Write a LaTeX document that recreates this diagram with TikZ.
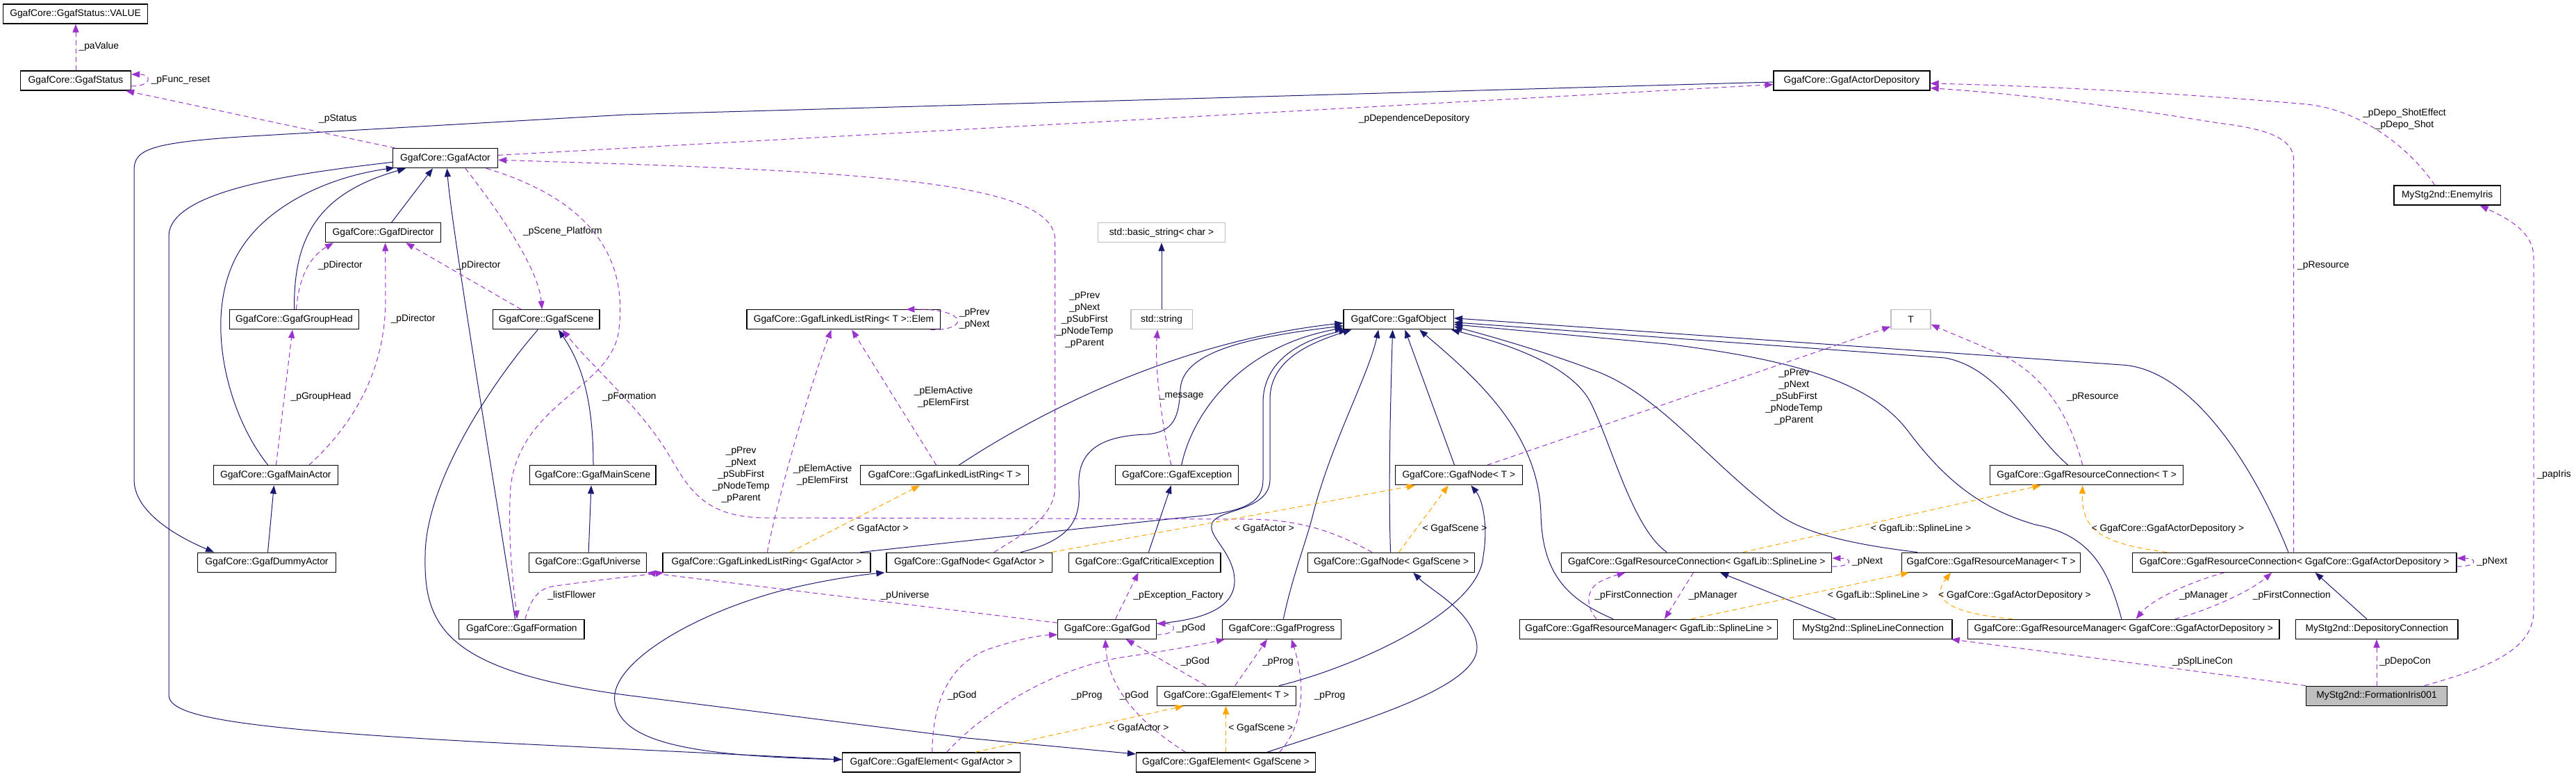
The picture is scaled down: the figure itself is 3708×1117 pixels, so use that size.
\documentclass[tikz,border=0pt]{standalone}
\usepackage{fontspec}
\setmainfont{Liberation Sans}
\usetikzlibrary{arrows.meta}
\definecolor{edgeblue}{HTML}{191970}
\definecolor{edgepurple}{HTML}{9A32CD}
\definecolor{edgeorange}{HTML}{FFA500}
\definecolor{boxgray}{HTML}{BFBFBF}
\begin{document}
\begin{tikzpicture}[x=1pt,y=-1pt,
  font=\fontsize{13.8}{17}\selectfont,
  classbox/.style={draw=black,line width=1.3pt,fill=white,minimum height=28pt,inner xsep=3pt,inner ysep=0pt},
  graybox/.style={classbox,draw=boxgray},
  hlbox/.style={classbox,fill=boxgray},
  arrowtip/.style={-{Triangle[length=12pt,width=9pt]}},
  inhedge/.style={draw=edgeblue,line width=1pt,arrowtip},
  useedge/.style={draw=edgepurple,line width=1pt,dash pattern=on 7pt off 5pt,arrowtip},
  tmpledge/.style={draw=edgeorange,line width=1pt,dash pattern=on 7pt off 5pt,arrowtip},
  lblnode/.style={inner sep=0pt,align=center,text=black}]
\useasboundingbox (0,0) rectangle (3708,1117);

% ---------- nodes ----------
\node[classbox,minimum width=207.6pt] (value) at (108.5,20) {GgafCore::GgafStatus::VALUE};
\node[classbox,minimum width=159pt] (status) at (109,116) {GgafCore::GgafStatus};
\node[classbox,minimum width=225pt] (actordepo) at (2665.5,116) {GgafCore::GgafActorDepository};
\node[classbox,minimum width=151pt] (actor) at (641,227.7) {GgafCore::GgafActor};
\node[classbox,minimum width=153.6pt] (enemyiris) at (3522.7,281) {MyStg2nd::EnemyIris};
\node[classbox,minimum width=166pt] (director) at (551.6,334.7) {GgafCore::GgafDirector};
\node[graybox,minimum width=183.3pt] (basicstr) at (1672,334.7) {std::basic\_string< char >};
\node[classbox,minimum width=186pt] (grouphead) at (423.5,459.8) {GgafCore::GgafGroupHead};
\node[classbox,minimum width=153.6pt] (scene) at (786.2,459.8) {GgafCore::GgafScene};
\node[classbox,minimum width=278.8pt] (elem) at (1214.4,459.8) {GgafCore::GgafLinkedListRing< T >::Elem};
\node[graybox,minimum width=88.3pt] (stdstr) at (1672,459.8) {std::string};
\node[classbox,minimum width=158.4pt] (object) at (2013.2,459.8) {GgafCore::GgafObject};
\node[graybox,minimum width=57pt] (tparam) at (2750.5,459.8) {T};
\node[classbox,minimum width=179pt] (mainactor) at (396.8,683.8) {GgafCore::GgafMainActor};
\node[classbox,minimum width=181.7pt] (mainscene) at (853,683.8) {GgafCore::GgafMainScene};
\node[classbox,minimum width=242pt] (llrT) at (1359.7,683.8) {GgafCore::GgafLinkedListRing< T >};
\node[classbox,minimum width=176.8pt] (exception) at (1694.2,683.8) {GgafCore::GgafException};
\node[classbox,minimum width=183.3pt] (nodeT) at (2099.8,683.8) {GgafCore::GgafNode< T >};
\node[classbox,minimum width=278.2pt] (rcT) at (3003.7,683.8) {GgafCore::GgafResourceConnection< T >};
\node[classbox,minimum width=198.7pt] (dummy) at (384,809.2) {GgafCore::GgafDummyActor};
\node[classbox,minimum width=169.2pt] (universe) at (846.2,809.2) {GgafCore::GgafUniverse};
\node[classbox,minimum width=298.9pt] (llrA) at (1103.5,809.2) {GgafCore::GgafLinkedListRing< GgafActor >};
\node[classbox,minimum width=238.4pt] (nodeA) at (1395.2,809.2) {GgafCore::GgafNode< GgafActor >};
\node[classbox,minimum width=218.8pt] (critexc) at (1647.6,809.2) {GgafCore::GgafCriticalException};
\node[classbox,minimum width=240.2pt] (nodeS) at (2002.6,809.2) {GgafCore::GgafNode< GgafScene >};
\node[classbox,minimum width=389pt] (rcSL) at (2442.3,809.2) {GgafCore::GgafResourceConnection< GgafLib::SplineLine >};
\node[classbox,minimum width=256.5pt] (rmT) at (2866,809.2) {GgafCore::GgafResourceManager< T >};
\node[classbox,minimum width=466.8pt] (rcAD) at (3302.6,809.2) {GgafCore::GgafResourceConnection< GgafCore::GgafActorDepository >};
\node[classbox,minimum width=180.3pt] (formation) at (750.9,905.2) {GgafCore::GgafFormation};
\node[classbox,minimum width=141.8pt] (god) at (1593.7,905.2) {GgafCore::GgafGod};
\node[classbox,minimum width=171pt] (progress) at (1845,905.2) {GgafCore::GgafProgress};
\node[classbox,minimum width=371.3pt] (rmSL) at (2373,905.2) {GgafCore::GgafResourceManager< GgafLib::SplineLine >};
\node[classbox,minimum width=228.3pt] (slc) at (2695.9,905.2) {MyStg2nd::SplineLineConnection};
\node[classbox,minimum width=448.4pt] (rmAD) at (3056.8,905.2) {GgafCore::GgafResourceManager< GgafCore::GgafActorDepository >};
\node[classbox,minimum width=233.1pt] (depocon) at (3421.3,905.2) {MyStg2nd::DepositoryConnection};
\node[classbox,minimum width=200pt] (elemT) at (1765.2,1001.2) {GgafCore::GgafElement< T >};
\node[hlbox,minimum width=202.9pt] (fi001) at (3421,1001.2) {MyStg2nd::FormationIris001};
\node[classbox,minimum width=256.2pt] (elemA) at (1340.7,1097) {GgafCore::GgafElement< GgafActor >};
\node[classbox,minimum width=258.2pt] (elemS) at (1764.6,1097) {GgafCore::GgafElement< GgafScene >};

% ---------- inheritance ----------
\draw[inhedge] ([yshift=-2pt]actordepo.west) -- (900,165) -- (360,196) .. controls (215,205) and (193,215) .. (193,245) -- (193,690) .. controls (193,735) and (250,770) .. ([xshift=-76pt]dummy.north);
\draw[inhedge] ([yshift=-5.6pt]actor.west) .. controls (420,250) and (243,275) .. (243,340) -- (243,1000) .. controls (243,1030) and (330,1048) .. (700,1068) -- ([yshift=4pt]elemA.west);
\draw[inhedge] ([xshift=-11pt]mainactor.north) .. controls (330,600) and (295,470) .. (335,380) .. controls (370,300) and (470,255) .. ([xshift=3pt,yshift=1pt]actor.south west);
\draw[inhedge] (grouphead.north) .. controls (423,350) and (450,280) .. ([xshift=-57pt]actor.south);
\draw[inhedge] ([xshift=12pt]director.north) -- ([xshift=-18pt]actor.south);
\draw[inhedge] ([xshift=-9.5pt]formation.north) .. controls (725,780) and (650,330) .. ([xshift=2.5pt]actor.south);
\draw[inhedge] ([xshift=1pt]mainscene.north) .. controls (854,570) and (835,520) .. ([xshift=17.5pt]scene.south);
\draw[inhedge] ([xshift=1pt]universe.north) -- ([xshift=-2pt]mainscene.south);
\draw[inhedge] ([xshift=1.5pt]dummy.north) -- ([xshift=-2.4pt]mainactor.south);
\draw[inhedge] (stdstr.north) -- (basicstr.south);
\draw[inhedge] ([xshift=5.7pt]critexc.north) -- ([xshift=-8.3pt]exception.south);
\draw[inhedge] ([xshift=20.7pt]llrT.north) .. controls (1500,590) and (1700,490) .. ([yshift=-5pt]object.west);
\draw[inhedge] ([xshift=74pt]nodeA.north) .. controls (1550,775) and (1555,740) .. (1553,700) .. controls (1550,645) and (1590,627) .. (1650,625) .. controls (1690,622) and (1697,600) .. (1699,560) .. controls (1702,505) and (1800,485) .. ([yshift=-9pt]object.west);
\draw[inhedge] ([xshift=6.5pt]exception.north) .. controls (1715,600) and (1780,500) .. ([yshift=-12pt]object.west);
\draw[inhedge] ([xshift=135pt]llrA.north) -- (1700,745) .. controls (1790,738) and (1818,725) .. (1818,690) -- (1818,580) .. controls (1818,520) and (1870,490) .. ([xshift=6pt]object.south west);
\draw[inhedge] ([yshift=8pt]god.east) .. controls (1760,890) and (1785,860) .. (1775,820) .. controls (1765,785) and (1738,770) .. (1745,752) .. controls (1755,732) and (1828,735) .. (1828,690) -- (1828,575) .. controls (1828,520) and (1880,495) .. ([xshift=12pt]object.south west);
\draw[inhedge] ([xshift=2.4pt]progress.north) .. controls (1860,830) and (1880,780) .. (1890,740) .. controls (1915,640) and (1970,540) .. ([xshift=-29pt]object.south);
\draw[inhedge] ([xshift=-1pt]nodeS.north) .. controls (1998,700) and (2002,560) .. ([xshift=-8.6pt]object.south);
\draw[inhedge] ([xshift=-6.2pt]nodeT.north) -- ([xshift=9.2pt]object.south);
\draw[inhedge] ([xshift=-51pt]rmSL.north) .. controls (2250,860) and (2220,820) .. (2218,740) .. controls (2215,620) and (2120,540) .. ([xshift=30pt]object.south);
\draw[inhedge] ([xshift=-43pt]rcSL.north) .. controls (2350,760) and (2320,640) .. (2290,580) .. controls (2260,520) and (2150,490) .. ([xshift=-4pt]object.south east);
\draw[inhedge] ([xshift=-106pt]rmT.north) .. controls (2680,785) and (2600,770) .. (2560,740) .. controls (2460,665) and (2390,570) .. (2300,535) .. controls (2230,508) and (2150,485) .. ([yshift=-10pt]object.east);
\draw[inhedge] ([xshift=-27pt]rcT.north) .. controls (2920,620) and (2880,530) .. (2800,515) -- ([yshift=-4pt]object.east);
\draw[inhedge] ([xshift=-8.6pt]rcAD.north) .. controls (3240,660) and (3150,530) .. (3054,525) -- ([yshift=2pt]object.east);
\draw[inhedge] ([xshift=-3pt]rmAD.north) .. controls (3035,820) and (3010,770) .. (2930,755) .. controls (2850,732) and (2800,690) .. (2750,625) .. controls (2700,555) and (2600,520) .. (2400,495) -- ([yshift=-7pt]object.east);
\draw[inhedge] ([yshift=4pt]elemA.west) .. controls (1000,1088) and (895,1070) .. (885,1010) .. controls (876,955) and (1000,880) .. (1140,846) .. controls (1200,832) and (1250,826) .. ([xshift=-2pt]nodeA.south west);
\draw[inhedge] ([xshift=-12pt]scene.south) .. controls (700,560) and (612,700) .. (612,800) .. controls (610,900) and (640,965) .. (900,1000) -- (1392,1062) -- ([yshift=12pt]elemS.west);
\draw[inhedge] ([xshift=76pt]elemT.north) .. controls (1950,960) and (2130,880) .. (2135,800) .. controls (2142,760) and (2135,720) .. ([xshift=17.5pt]nodeT.south);
\draw[inhedge] ([xshift=59pt]elemS.north) .. controls (1950,1040) and (2130,990) .. (2126,930) .. controls (2122,880) and (2060,850) .. ([xshift=31.7pt]nodeS.south);
\draw[inhedge] ([xshift=-53.7pt]slc.north) -- ([xshift=33.7pt]rcSL.south);
\draw[inhedge] ([xshift=-14.6pt]depocon.north) -- ([xshift=30pt]rcAD.south);

% ---------- usage ----------
\draw[useedge] (status.north) -- (status.north |- value.south);
\draw[useedge] ([yshift=-8pt]status.east) .. controls +(30,0) and +(30,0) .. ([yshift=9pt]status.east);
\draw[useedge] ([xshift=4pt]actor.north west) -- ([xshift=-8pt]status.south east);
\draw[useedge] ([yshift=4.4pt]actor.east) -- ([yshift=-5.6pt]actordepo.west);
\draw[useedge] ([xshift=29pt]actor.south) .. controls (730,320) and (775,390) .. ([xshift=-6pt]scene.north);
\draw[useedge] ([xshift=59pt]actor.south) .. controls (860,290) and (905,380) .. (890,480) .. controls (875,560) and (750,580) .. (735,700) .. controls (730,780) and (740,850) .. ([xshift=-6.5pt]formation.north);
\draw[useedge] ([xshift=3pt]grouphead.north) .. controls (430,400) and (445,370) .. ([xshift=12pt]director.south west);
\draw[useedge] ([xshift=48pt]mainactor.north) .. controls (520,600) and (555,520) .. (555,430) -- ([xshift=3pt]director.south);
\draw[useedge] ([xshift=-36pt]scene.north) -- ([xshift=32.6pt]director.south);
\draw[useedge] ([xshift=0.6pt]mainactor.north) -- ([xshift=-2.5pt]grouphead.south);
\draw[useedge] ([xshift=-27.6pt]nodeS.north) .. controls (1930,770) and (1880,748) .. (1800,747) -- (1100,745) .. controls (1010,744) and (990,700) .. (960,650) .. controls (920,585) and (850,525) .. ([xshift=23.4pt]scene.south);
\draw[useedge] ([xshift=35.6pt]nodeA.north) .. controls (1470,770) and (1518.6,745) .. (1518.6,700) -- (1518.6,345) .. controls (1518.6,270) and (1300,250) .. (900,236) -- ([yshift=-2.5pt]actor.east);
\draw[useedge] ([xshift=1pt]llrA.north) .. controls (1110,760) and (1150,600) .. ([xshift=-17.8pt]elem.south);
\draw[useedge] ([xshift=-12pt]llrT.north) -- ([xshift=11.8pt]elem.south);
\draw[useedge] ([xshift=-15pt]elem.south east) .. controls (1395,476) and (1395,444) .. ([xshift=-50pt]elem.north east);
\draw[useedge] ([xshift=-8.3pt]exception.north) .. controls (1670,600) and (1662,520) .. ([xshift=-5.7pt]stdstr.south);
\draw[useedge] ([xshift=41pt]nodeT.north) -- ([yshift=-10pt]tparam.west);
\draw[useedge] ([xshift=-6pt]rcT.north) .. controls (2985,620) and (2955,545) .. (2880,510) .. controls (2840,492) and (2800,476) .. ([yshift=-7pt]tparam.east);
\draw[useedge] ([xshift=-1pt]rcAD.north) -- (3301.6,230) .. controls (3301.6,198) and (3260,185) .. (3193,177) .. controls (3100,162) and (2950,138) .. ([yshift=-10.7pt]actordepo.east);
\draw[useedge] ([xshift=-18pt]enemyiris.north) .. controls (3470,215) and (3400,158) .. (3320,150) .. controls (3150,135) and (2950,124) .. ([yshift=-4pt]actordepo.east);
\draw[useedge] ([xshift=69pt]fi001.north) .. controls (3565,965) and (3647,940) .. (3647,880) -- (3647,370) .. controls (3647,330) and (3600,310) .. ([xshift=47pt]enemyiris.south);
\draw[useedge] (fi001.north west) -- ([xshift=-2pt]slc.south east);
\draw[useedge] (fi001.north) -- (fi001.north |- depocon.south);
\draw[useedge] ([yshift=-6pt]rcSL.east) .. controls +(30,0) and +(30,0) .. ([yshift=6pt]rcSL.east);
\draw[useedge] ([yshift=-6pt]rcAD.east) .. controls +(30,0) and +(30,0) .. ([yshift=6pt]rcAD.east);
\draw[useedge] ([xshift=-75pt]rmSL.north) .. controls (2280,870) and (2285,845) .. (2305,836) .. controls (2318,830) and (2328,827) .. ([xshift=-102.6pt]rcSL.south);
\draw[useedge] ([xshift=-4.7pt]rcSL.south) -- ([xshift=23pt]rmSL.north);
\draw[useedge] ([xshift=-100.6pt]rcAD.south) .. controls (3160,835) and (3100,860) .. ([xshift=17.8pt]rmAD.north);
\draw[useedge] ([xshift=74pt]rmAD.north) .. controls (3180,878) and (3240,850) .. ([xshift=-32.3pt]rcAD.south);
\draw[useedge] ([xshift=12pt]god.north) -- ([xshift=-9pt]critexc.south);
\draw[useedge] ([yshift=9pt]god.west) -- (universe.south east);
\draw[useedge] ([xshift=5pt]formation.north) .. controls (765,860) and (775,846) .. (800,843) .. controls (850,836) and (920,828) .. ([xshift=2pt]llrA.south west);
\draw[useedge] ([yshift=-8pt]god.east) .. controls +(30,0) and +(30,0) .. ([yshift=8pt]god.east);
\draw[useedge] ([xshift=1.2pt]elemA.north) .. controls (1342,1020) and (1360,960) .. (1420,935) .. controls (1470,918) and (1500,914) .. ([yshift=-8pt]god.west);
\draw[useedge] ([xshift=22pt]elemA.north) .. controls (1420,1020) and (1520,960) .. (1620,945) .. controls (1690,935) and (1740,925) .. ([xshift=4pt]progress.south west);
\draw[useedge] ([xshift=-58pt]elemS.north) .. controls (1640,1040) and (1595,990) .. ([xshift=-2.7pt]god.south);
\draw[useedge] ([xshift=-29pt]elemT.north) -- ([xshift=27pt]god.south);
\draw[useedge] ([xshift=12.6pt]elemT.north) -- ([xshift=-21pt]progress.south);
\draw[useedge] ([xshift=77pt]elemS.north) .. controls (1880,1040) and (1878,980) .. ([xshift=14pt]progress.south);

% ---------- template instances ----------
\draw[tmpledge] ([xshift=34pt]llrA.north) -- ([xshift=-35.7pt]llrT.south);
\draw[tmpledge] ([xshift=118.7pt]nodeA.north) -- ([xshift=-62.8pt]nodeT.south);
\draw[tmpledge] ([xshift=11pt]nodeS.north) -- ([xshift=-15pt]nodeT.south);
\draw[tmpledge] ([xshift=63pt]elemA.north) -- ([xshift=-61.5pt]elemT.south);
\draw[tmpledge] (elemS.north) -- (elemS.north |- elemT.south);
\draw[tmpledge] ([xshift=66.5pt]rcSL.north) -- ([xshift=-66pt]rcT.south);
\draw[tmpledge] ([xshift=-183.6pt]rcAD.north) .. controls (3020,782) and (2996,760) .. ([xshift=-6pt]rcT.south);
\draw[tmpledge] ([xshift=61.6pt]rmSL.north) -- ([xshift=-118pt]rmT.south);
\draw[tmpledge] ([xshift=-160pt]rmAD.north) .. controls (2800,882) and (2780,860) .. ([xshift=-58pt]rmT.south);

% ---------- labels ----------
\node[lblnode] (l1) at (142.3,66.7) {\_paValue};
\node[lblnode] (l2) at (260,115) {\_pFunc\_reset};
\node[lblnode] (l3) at (486.4,170.7) {\_pStatus};
\node[lblnode] (l4) at (2035.7,170.7) {\_pDependenceDepository};
\node[lblnode] (l5) at (3461,171.3) {\_pDepo\_ShotEffect\\\_pDepo\_Shot};
\node[lblnode] (l6) at (809.9,333.3) {\_pScene\_Platform};
\node[lblnode] (l7) at (490,381.7) {\_pDirector};
\node[lblnode] (l8) at (594.6,458.7) {\_pDirector};
\node[lblnode] (l9) at (688.6,381.7) {\_pDirector};
\node[lblnode] (l10) at (3344.4,381.7) {\_pResource};
\node[lblnode] (l11) at (1561.3,459.7) {\_pPrev\\\_pNext\\\_pSubFirst\\\_pNodeTemp\\\_pParent};
\node[lblnode] (l12) at (1402.7,459) {\_pPrev\\\_pNext};
\node[lblnode] (l13) at (462,570.7) {\_pGroupHead};
\node[lblnode] (l14) at (905.9,570.7) {\_pFormation};
\node[lblnode] (l15) at (1358,571) {\_pElemActive\\\_pElemFirst};
\node[lblnode] (l16) at (1700.7,570.7) {\_message};
\node[lblnode] (l17) at (2582.3,571.3) {\_pPrev\\\_pNext\\\_pSubFirst\\\_pNodeTemp\\\_pParent};
\node[lblnode] (l18) at (3012.3,570.7) {\_pResource};
\node[lblnode] (l19) at (1066.7,683) {\_pPrev\\\_pNext\\\_pSubFirst\\\_pNodeTemp\\\_pParent};
\node[lblnode] (l20) at (1184,683.3) {\_pElemActive\\\_pElemFirst};
\node[lblnode] (l21) at (3676.3,682.7) {\_papIris};
\node[lblnode] (l22) at (1264.8,760.7) {< GgafActor >};
\node[lblnode] (l23) at (1820,760.7) {< GgafActor >};
\node[lblnode] (l24) at (2094,760.7) {< GgafScene >};
\node[lblnode] (l25) at (2765,760.7) {< GgafLib::SplineLine >};
\node[lblnode] (l26) at (3120.5,760.7) {< GgafCore::GgafActorDepository >};
\node[lblnode] (l27) at (2688,808.3) {\_pNext};
\node[lblnode] (l28) at (3587.3,808.3) {\_pNext};
\node[lblnode] (l29) at (823,856.7) {\_listFllower};
\node[lblnode] (l30) at (1302.7,856.7) {\_pUniverse};
\node[lblnode] (l31) at (1696.3,856.7) {\_pException\_Factory};
\node[lblnode] (l32) at (2351.5,856.7) {\_pFirstConnection};
\node[lblnode] (l33) at (2465.8,856.7) {\_pManager};
\node[lblnode] (l34) at (2703,856.7) {< GgafLib::SplineLine >};
\node[lblnode] (l35) at (2899.9,856.7) {< GgafCore::GgafActorDepository >};
\node[lblnode] (l36) at (3172,856.7) {\_pManager};
\node[lblnode] (l37) at (3298.8,856.7) {\_pFirstConnection};
\node[lblnode] (l38) at (1714.3,904.3) {\_pGod};
\node[lblnode] (l39) at (1720.3,952.3) {\_pGod};
\node[lblnode] (l40) at (1839.5,952.3) {\_pProg};
\node[lblnode] (l41) at (3170.4,952.3) {\_pSplLineCon};
\node[lblnode] (l42) at (3461.9,952.3) {\_pDepoCon};
\node[lblnode] (l43) at (1384.9,1000.7) {\_pGod};
\node[lblnode] (l44) at (1564.3,1000.7) {\_pProg};
\node[lblnode] (l45) at (1632.5,1000.7) {\_pGod};
\node[lblnode] (l46) at (1914,1000.7) {\_pProg};
\node[lblnode] (l47) at (1639.5,1048.3) {< GgafActor >};
\node[lblnode] (l48) at (1814.7,1048.3) {< GgafScene >};
\end{tikzpicture}
\end{document}
